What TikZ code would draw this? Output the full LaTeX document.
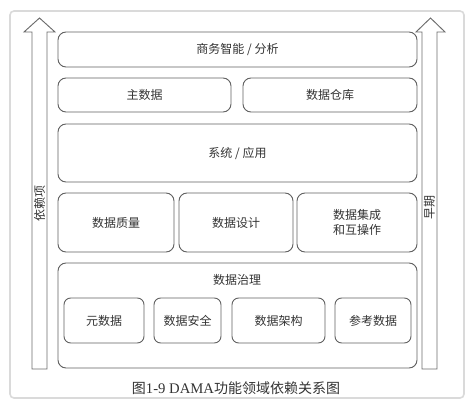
\documentclass[tikz,border=0pt]{standalone}
\usepackage{fontspec}
\usepackage{tikz}
\usetikzlibrary{positioning}
\newfontfamily\cjk{Noto Sans CJK SC}
\setmainfont{Liberation Serif}
\definecolor{ink}{HTML}{333333}
\definecolor{boxline}{HTML}{606060}
\definecolor{arrowline}{HTML}{6C6C6C}
\definecolor{panelline}{HTML}{DADADA}

\begin{document}
\begin{tikzpicture}[x=0.75pt,y=-0.75pt,font=\cjk\fontsize{9}{11.5}\selectfont,
  area/.style={draw=boxline,line width=0.7pt,rounded corners=6pt,align=center,inner sep=0pt,text=ink},
  subarea/.style={area,rounded corners=5pt,minimum height=33.75pt},
  uparrow/.style={draw=arrowline,line width=0.7pt,fill=white,line join=miter}]
\useasboundingbox (0,0) rectangle (474,410);
\draw[panelline,line width=1.2pt,rounded corners=3pt] (10,11) rectangle (464,398);
\draw[uparrow] (32,369) -- (32,32) -- (24,32) -- (39.5,18) -- (55,32) -- (47,32) -- (47,369) -- cycle;
\draw[uparrow] (422,369) -- (422,32) -- (416,32) -- (430.5,18) -- (445,32) -- (437,32) -- (437,369) -- cycle;
\node[rotate=90,text=ink] (dep) at (39.5,203) {依赖项};
\node[rotate=90,text=ink] (early) at (429.5,207) {早期};
\node[area,minimum width=269.25pt,minimum height=26.25pt] (bi) at (237.5,49.5) {商务智能 / 分析};
\node[area,minimum width=129.75pt,minimum height=25.5pt] (master) at (144.5,95) {主数据};
\node[area,minimum width=130.5pt,minimum height=25.5pt] (dw) at (330,95) {数据仓库};
\node[area,minimum width=269.25pt,minimum height=43.5pt] (sys) at (237.5,153) {系统 / 应用};
\node[area,minimum width=87pt,minimum height=44.25pt] (quality) at (116,222.5) {数据质量};
\node[area,minimum width=85.5pt,minimum height=44.25pt] (design) at (236,222.5) {数据设计};
\node[area,minimum width=90pt,minimum height=44.25pt] (integ) at (357,222.5) {数据集成\\和互操作};
\node[area,minimum width=269.25pt,minimum height=78.75pt] (gov) at (237.5,315.5) {};
\node[text=ink] (govtitle) at (237,280) {数据治理};
\node[subarea,minimum width=60pt] (meta) at (104,320.5) {元数据};
\node[subarea,minimum width=50.25pt] (sec) at (187.5,320.5) {数据安全};
\node[subarea,minimum width=69.75pt] (arch) at (278.5,320.5) {数据架构};
\node[subarea,minimum width=57pt] (ref) at (373,320.5) {参考数据};
\node[text=ink,font=\cjk\fontsize{10.5}{12}\selectfont] (caption) at (236,388) {图{\rmfamily\fontsize{11}{12}\selectfont 1-9 DAMA}功能领域依赖关系图};
\end{tikzpicture}
\end{document}
